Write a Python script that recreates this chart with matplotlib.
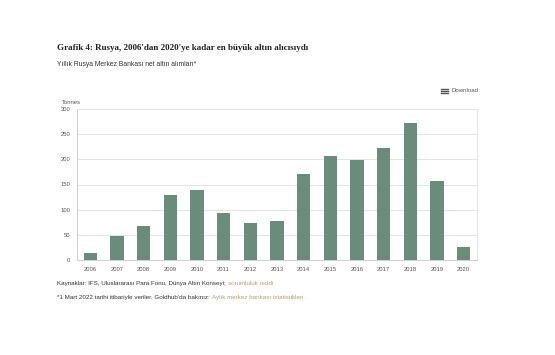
import matplotlib
matplotlib.use("Agg")
import matplotlib.pyplot as plt

plt.rcParams["font.family"] = ["Liberation Sans", "DejaVu Sans"]

years = [str(y) for y in range(2006, 2021)]
tonnes = [13, 48, 68, 129, 139, 93, 73, 77, 171, 206, 199, 223, 273, 157, 26]
yticks = [0, 50, 100, 150, 200, 250, 300]

BAR_C = "#6b8c7d"
GRID_C = "#e3e3e3"
TEXT_C = "#333333"
LINK_C = "#b3a06e"

W, H = 555, 355
fig = plt.figure(figsize=(W / 100, H / 100), dpi=100)
fig.patch.set_facecolor("white")

# plot box in pixel coordinates: x 77..477, y 109..260
ax = fig.add_axes([77 / W, 1 - 260 / H, 400 / W, 151 / H])
x = range(len(years))
ax.bar(x, tonnes, width=0.5, color=BAR_C, zorder=3)
ax.set_xlim(-0.5, len(years) - 0.5)
ax.set_ylim(0, 300)
ax.set_yticks(yticks)
ax.set_yticklabels([str(v) for v in yticks], fontsize=4.2, color="#555555")
ax.set_xticks(list(x))
ax.set_xticklabels(years, fontsize=4.2, color="#555555")
ax.tick_params(length=0, pad=5)
ax.grid(True, axis="y", color=GRID_C, lw=0.7, zorder=0)
for side in ["top", "right"]:
    ax.spines[side].set_color(GRID_C)
    ax.spines[side].set_linewidth(0.7)
for side in ["left", "bottom"]:
    ax.spines[side].set_color("#cfcfcf")
    ax.spines[side].set_linewidth(0.7)

fig.text(62 / W, 1 - 102 / H, "Tonnes", fontsize=4.2, color="#555555",
         va="center", ha="left")

fig.text(57 / W, 1 - 48 / H, "Grafik 4: Rusya, 2006'dan 2020'ye kadar en büyük altın alıcısıydı",
         fontsize=6.5, fontweight="bold", family=["Liberation Serif", "DejaVu Serif"],
         color="#222222", va="center", ha="left")
fig.text(57 / W, 1 - 64 / H, "Yıllık Rusya Merkez Bankası net altın alımları*",
         fontsize=4.9, color=TEXT_C, va="center", ha="left")

# download icon
for dy in (-2, 0, 2):
    fig.add_artist(plt.Line2D([441 / W, 448 / W], [1 - (91 + dy) / H] * 2,
                              color="#555555", lw=1.0))
fig.text(452 / W, 1 - 91 / H, "Download", fontsize=4.4, color="#555555",
         va="center", ha="left")


def line_with_link(y_px, plain, link):
    t = fig.text(57 / W, 1 - y_px / H, plain, fontsize=4.5, color=TEXT_C,
                 va="baseline", ha="left")
    fig.canvas.draw()
    bb = t.get_window_extent()
    fig.text(bb.x1 / W, 1 - y_px / H, link, fontsize=4.5, color=LINK_C,
             va="baseline", ha="left")


# sources and footnote
line_with_link(285, "Kaynaklar: IFS, Uluslararası Para Fonu, Dünya Altın Konseyi; ",
               "sorumluluk reddi")
line_with_link(299, "*1 Mart 2022 tarihi itibariyle veriler. Goldhub'da bakınız: ",
               "Aylık merkez bankası istatistikleri .")

fig.savefig("out.png", dpi=100)
